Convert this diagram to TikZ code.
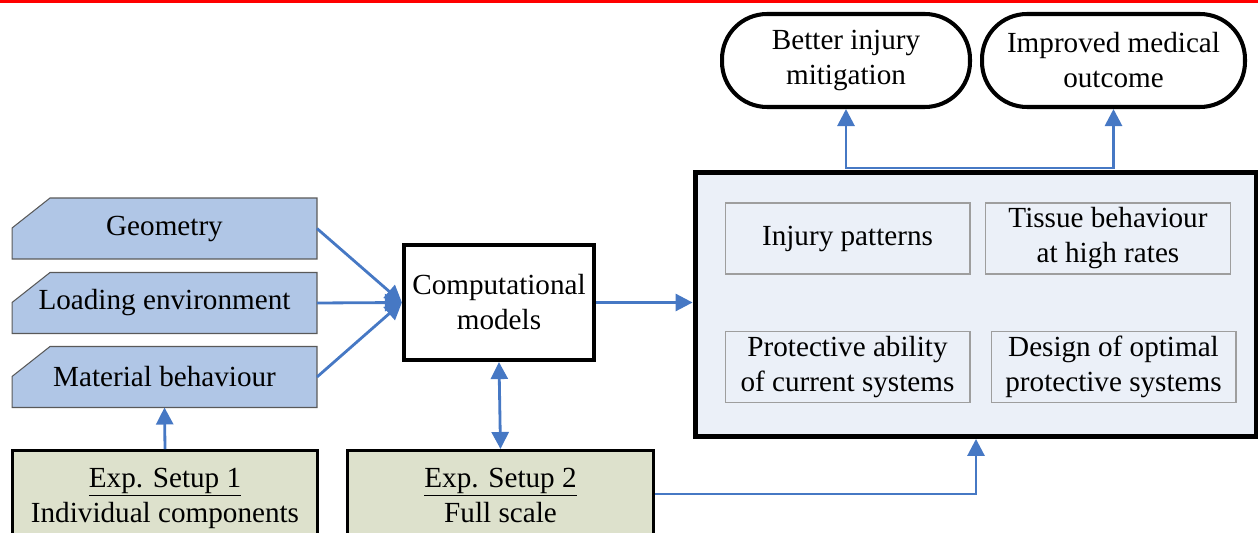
\documentclass[tikz,border=0pt]{standalone}
\usepackage{fontspec}
\setmainfont{Liberation Serif}
\usetikzlibrary{arrows.meta,backgrounds}

\definecolor{flowblue}{RGB}{70,120,196}
\definecolor{inputfill}{RGB}{176,198,230}
\definecolor{expfill}{RGB}{221,225,204}
\definecolor{resultfill}{RGB}{235,240,248}

\tikzset{
  every node/.style={font=\fontsize{16.6}{19.9}\selectfont, align=center},
  inbox/.style={minimum width=6.1cm, minimum height=1.22cm, inner sep=0pt, outer sep=0pt},
  expbox/.style={draw, line width=1.7pt, fill=expfill, minimum width=6.12cm, minimum height=1.9cm, inner sep=0pt},
  modelbox/.style={draw, line width=2.4pt, fill=white, minimum width=3.8cm, minimum height=2.3cm, inner sep=0pt},
  resultbox/.style={draw, line width=2.8pt, fill=resultfill, minimum width=11.24cm, minimum height=5.28cm, inner sep=0pt},
  topicbox/.style={draw=black!38, line width=0.6pt, fill=resultfill, minimum width=4.9cm, minimum height=1.42cm, inner sep=0pt},
  goalbox/.style={draw, line width=2.3pt, fill=white, rounded corners=0.9cm, minimum height=1.86cm, inner sep=0pt},
  arr/.style={draw=flowblue, line width=1.6pt, -{Triangle[length=0.34cm,width=0.34cm]}},
  dblarr/.style={draw=flowblue, line width=1.6pt, {Triangle[length=0.34cm,width=0.34cm]}-{Triangle[length=0.34cm,width=0.34cm]}}
}

\begin{document}
\begin{tikzpicture}[x=0.02cm, y=-0.02cm]
\useasboundingbox (0,0) rectangle (1258,533);
\draw[red, line width=2pt] (0,1) -- (1258,1);

% inputs
\foreach \n/\y/\t in {geom/228.5/Geometry, load/303/Loading environment, mat/377/Material behaviour} {
  \node[inbox] (\n) at (164.5,\y) {\t};
}
\begin{pgfonlayer}{background}
\foreach \n in {geom,load,mat} {
  \filldraw[fill=inputfill, draw=black!65, line width=0.6pt] (\n.south west) -- ([yshift=-0.6cm]\n.north west) -- ([xshift=0.76cm]\n.north west) -- (\n.north east) -- (\n.south east) -- cycle;
}
\end{pgfonlayer}

\node[expbox] (exp1) at (165,498) {\underline{Exp. Setup 1}\\Individual components};
\node[expbox] (exp2) at (500.5,498) {\underline{Exp. Setup 2}\\Full scale\vphantom{p}};
\node[modelbox] (model) at (499,302.5) {Computational\\models};

% results
\node[resultbox] (result) at (976,304.5) {};
\node[topicbox] (injury) at (847.5,238.5) {Injury patterns};
\node[topicbox] (tissue) at (1108,238.5) {Tissue behaviour\\at high rates};
\node[topicbox] (protect) at (847.5,367) {Protective ability\\of current systems};
\node[topicbox] (design) at (1113.5,367) {Design of optimal\\protective systems};

\node[goalbox, minimum width=4.96cm] (better) at (846,60.5) {Better injury\\mitigation};
\node[goalbox, minimum width=5.26cm] (improved) at (1113.5,60.5) {Improved medical\\outcome};

\coordinate (split) at (977,168);

\draw[arr] (geom.east) -- (model.west);
\draw[arr] (load.east) -- (model.west);
\draw[arr] (mat.east) -- (model.west);
\draw[arr] (exp1.north) -- (mat.south);
\draw[dblarr] (model.south) -- (exp2.north);
\draw[arr] (model.east) -- (model.east -| result.west);
\draw[arr] ([yshift=0.08cm]exp2.east) -| (result.south);
\draw[arr] (split) -| (better.south);
\draw[arr] (split) -| (improved.south);
\end{tikzpicture}
\end{document}
